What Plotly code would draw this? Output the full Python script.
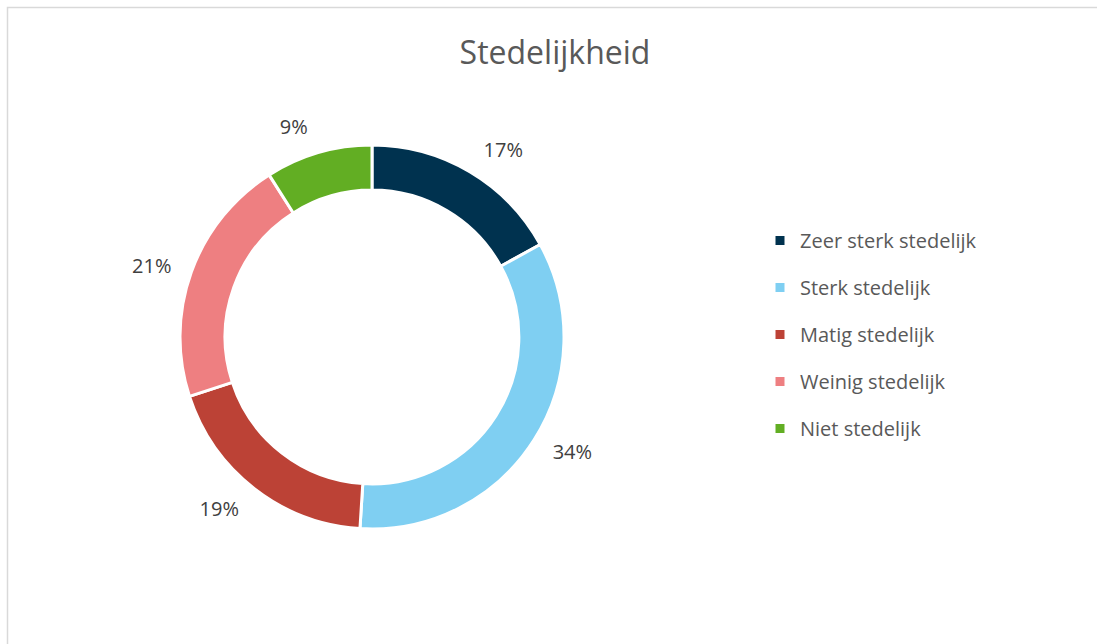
import plotly.graph_objects as go

categories = ["Zeer sterk stedelijk", "Sterk stedelijk", "Matig stedelijk", "Weinig stedelijk", "Niet stedelijk"]
values = [17, 34, 19, 21, 9]
colors = ["#00324F", "#7FCFF2", "#BC4236", "#EE7F81", "#62AE23"]

W, H = 1097, 644
cx, cy, r = 372, 337, 192
r_lab = r + 14  # radius of the invisible ring that carries the outside labels

def dom(rad):
    return dict(x=[(cx - rad) / W, (cx + rad) / W], y=[1 - (cy + rad) / H, 1 - (cy - rad) / H])

fig = go.Figure()
# invisible ring: only provides the outside percentage labels, a bit further out
fig.add_trace(go.Pie(
    labels=categories, values=values, sort=False, direction="clockwise", rotation=0,
    hole=0.9, marker=dict(colors=["rgba(0,0,0,0)"] * len(values), line=dict(width=0)),
    textinfo="percent", textposition="outside",
    textfont=dict(family="Open Sans", size=20, color="#404040"),
    showlegend=False, hoverinfo="skip", domain=dom(r_lab),
))
fig.add_trace(go.Pie(
    labels=categories, values=values, sort=False, direction="clockwise", rotation=0,
    hole=0.765, marker=dict(colors=colors, line=dict(color="white", width=3)),
    textinfo="none", showlegend=False, hoverinfo="label+percent", domain=dom(r),
))
for c, col in zip(categories, colors):
    fig.add_trace(go.Scatter(x=[None], y=[None], mode="markers", name=c, legendgroup=c,
                             marker=dict(symbol="square", size=9, color=col), showlegend=True))

fig.update_layout(
    width=W, height=H, margin=dict(l=0, r=0, t=0, b=0),
    paper_bgcolor="white", plot_bgcolor="white",
    xaxis=dict(visible=False), yaxis=dict(visible=False),
    title=dict(text="Stedelijkheid", x=555 / W, xanchor="center", y=1 - 53 / H, yanchor="middle",
               font=dict(family="Open Sans", size=32, color="#595959")),
    legend=dict(x=760 / W, xanchor="left", y=1 - 221 / H, yanchor="top", tracegroupgap=18,
                font=dict(family="Open Sans", size=20, color="#595959"), bgcolor="rgba(0,0,0,0)"),
    shapes=[dict(type="rect", xref="paper", yref="paper", x0=7.5 / W, x1=1.05, y0=-0.05, y1=1 - 7.5 / H,
                 line=dict(color="#D9D9D9", width=1.5), layer="below")],
)
fig.write_html("out.html", config={"displayModeBar": False},
               post_script="document.body.style.margin='0';document.body.style.overflow='hidden';")
